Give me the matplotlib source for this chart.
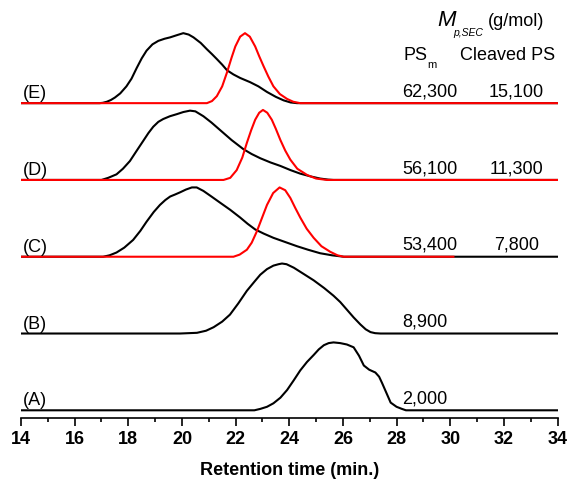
import numpy as np
import matplotlib.pyplot as plt

plt.rcParams['font.family'] = ['Liberation Sans', 'DejaVu Sans']

# SEC traces: retention time (min) and normalised intensity
a_t = [14.0, 22.70, 22.92, 23.17, 23.41, 23.67, 23.92, 24.17, 24.41, 24.66, 24.91, 25.10, 25.29, 25.47,
       25.65, 25.90, 26.15, 26.40, 26.60, 26.78, 26.98, 27.21, 27.35, 27.46, 27.62, 27.78, 28.0, 28.2, 28.35, 34.0]
a_i = [0.0, 0.0, 0.02, 0.05, 0.10, 0.18, 0.29, 0.43, 0.57, 0.69, 0.79, 0.87, 0.93, 0.96,
       0.97, 0.96, 0.94, 0.90, 0.78, 0.64, 0.58, 0.54, 0.48, 0.39, 0.25, 0.11, 0.05, 0.02, 0.0, 0.0]

b_t = [14.0, 19.93, 20.56, 20.90, 21.18, 21.50, 21.79, 22.10, 22.42, 22.70, 22.92, 23.17, 23.41, 23.60,
       23.73, 23.90, 24.17, 24.50, 24.91, 25.30, 25.65, 25.90, 26.15, 26.40, 26.65, 26.85, 27.03, 27.20, 27.40, 34.0]
b_i = [0.0, 0.0, 0.01, 0.04, 0.09, 0.17, 0.27, 0.43, 0.61, 0.74, 0.84, 0.92, 0.97, 0.99,
       1.0, 0.99, 0.94, 0.86, 0.76, 0.65, 0.54, 0.45, 0.34, 0.23, 0.13, 0.06, 0.02, 0.005, 0.0, 0.0]

c_t = [14.0, 17.06, 17.30, 17.56, 17.85, 18.18, 18.45, 18.68, 18.95, 19.18, 19.38, 19.56, 19.75, 19.93, 20.15,
       20.37, 20.55, 20.80, 21.10, 21.43, 21.80, 22.17, 22.45, 22.73, 23.05, 23.41, 23.85, 24.29, 24.70, 25.15,
       25.60, 26.03, 34.0]
c_i = [0.0, 0.0, 0.02, 0.06, 0.13, 0.24, 0.37, 0.50, 0.64, 0.74, 0.81, 0.86, 0.89, 0.92, 0.96,
       0.99, 0.99, 0.94, 0.86, 0.77, 0.67, 0.56, 0.47, 0.39, 0.33, 0.27, 0.21, 0.15, 0.10, 0.05,
       0.02, 0.0, 0.0]
c_red_t = [14.0, 21.92, 22.15, 22.42, 22.60, 22.79, 22.98, 23.17, 23.40, 23.64, 23.85, 24.04, 24.22, 24.41,
           24.65, 24.91, 25.20, 25.53, 25.80, 26.03, 30.12]
c_red_i = [0.0, 0.0, 0.03, 0.10, 0.20, 0.36, 0.55, 0.74, 0.91, 0.99, 0.95, 0.84, 0.70, 0.56,
           0.40, 0.27, 0.15, 0.07, 0.02, 0.0, 0.0]

d_t = [14.0, 17.00, 17.25, 17.56, 17.80, 18.06, 18.30, 18.56, 18.75, 18.93, 19.12, 19.30, 19.55, 19.81, 20.05,
       20.30, 20.50, 20.80, 21.10, 21.43, 21.85, 22.29, 22.60, 22.92, 23.30, 23.67, 24.05, 24.41, 24.80, 25.15,
       25.45, 25.65, 34.0]
d_i = [0.0, 0.0, 0.03, 0.08, 0.16, 0.27, 0.41, 0.56, 0.67, 0.76, 0.83, 0.87, 0.91, 0.94, 0.97,
       0.99, 0.98, 0.91, 0.82, 0.71, 0.57, 0.44, 0.37, 0.31, 0.25, 0.20, 0.14, 0.09, 0.05, 0.02,
       0.005, 0.0, 0.0]
d_red_t = [14.0, 21.55, 21.80, 22.04, 22.25, 22.42, 22.58, 22.73, 22.88, 23.02, 23.18, 23.35, 23.50, 23.67,
           23.85, 24.04, 24.30, 24.67, 25.00, 25.40, 34.0]
d_red_i = [0.0, 0.0, 0.03, 0.14, 0.32, 0.53, 0.71, 0.86, 0.96, 1.0, 0.96, 0.86, 0.73, 0.57,
           0.42, 0.29, 0.16, 0.07, 0.02, 0.0, 0.0]

e_t = [14.0, 16.93, 17.05, 17.20, 17.35, 17.50, 17.70, 17.93, 18.12, 18.31, 18.50, 18.68, 18.90, 19.12, 19.35,
       19.56, 19.80, 20.05, 20.25, 20.43, 20.70, 20.93, 21.12, 21.30, 21.50, 21.68, 21.92, 22.17, 22.54, 22.85,
       23.17, 23.50, 23.79, 24.05, 24.29, 34.0]
e_i = [0.0, 0.0, 0.005, 0.02, 0.045, 0.08, 0.14, 0.24, 0.35, 0.50, 0.64, 0.75, 0.84, 0.89, 0.92,
       0.94, 0.97, 1.0, 0.98, 0.94, 0.86, 0.77, 0.70, 0.63, 0.55, 0.47, 0.41, 0.36, 0.30, 0.24,
       0.16, 0.09, 0.04, 0.01, 0.0, 0.0]
e_red_t = [14.0, 20.93, 21.12, 21.30, 21.50, 21.68, 21.85, 21.99, 22.17, 22.35, 22.53, 22.73, 22.88, 23.04,
           23.22, 23.41, 23.65, 23.92, 24.15, 24.41, 34.0]
e_red_i = [0.0, 0.0, 0.03, 0.10, 0.24, 0.44, 0.65, 0.81, 0.95, 1.0, 0.95, 0.81, 0.67, 0.53,
           0.38, 0.24, 0.13, 0.06, 0.02, 0.0, 0.0]

sample_labels = ['(A)', '(B)', '(C)', '(D)', '(E)']
psm_values = ['2,000', '8,900', '53,400', '56,100', '62,300']
cleaved_values = ['', '', '7,800', '11,300', '15,100']

black = [(a_t, a_i), (b_t, b_i), (c_t, c_i), (d_t, d_i), (e_t, e_i)]
red = {2: (c_red_t, c_red_i), 3: (d_red_t, d_red_i), 4: (e_red_t, e_red_i)}

step = 1.097  # vertical offset between traces

fig = plt.figure(figsize=(5.69, 4.89), dpi=100)
ax = fig.add_axes([21 / 569, 70 / 489, 536.5 / 569, 419 / 489])

for k, (t, inten) in enumerate(black):
    off = k * step
    ax.plot(t, np.array(inten) + off, color='black', lw=1.5, solid_joinstyle='round')
    if k in red:
        rt, ri = red[k]
        ax.plot(rt, np.array(ri) + off, color='red', lw=1.5, solid_joinstyle='round')
    ax.text(14.06, off + 0.15, sample_labels[k], fontsize=13, ha='left', va='center')
    ax.text(28.22, off + 0.176, psm_values[k], fontsize=13, ha='left', va='center')
    if cleaved_values[k]:
        ax.text(32.47, off + 0.176, cleaved_values[k], fontsize=13, ha='center', va='center')

# column headers
ax.text(28.72, 5.08, 'PS', fontsize=13, ha='center', va='center')
ax.text(29.30, 4.95, 'm', fontsize=8, ha='center', va='center')
ax.text(32.13, 5.08, 'Cleaved PS', fontsize=13, ha='center', va='center')
ax.text(29.52, 5.58, 'M', fontsize=16, style='italic', ha='left', va='center')
ax.text(30.12, 5.40, 'p,SEC', fontsize=7.5, style='italic', ha='left', va='center')
ax.text(31.40, 5.57, '(g/mol)', fontsize=13, ha='left', va='center')

ax.set_xlim(14, 34)
ax.set_ylim(-0.11, 5.876)
ax.set_xticks(np.arange(14, 35, 2))
ax.set_xticks(np.arange(15, 34, 2), minor=True)
ax.tick_params(axis='x', which='major', direction='out', length=6, width=1.2, labelsize=13, pad=3)
ax.tick_params(axis='x', which='minor', direction='out', length=3, width=1.2)
for lab in ax.get_xticklabels():
    lab.set_fontweight('bold')
ax.set_yticks([])
for s in ['left', 'right', 'top']:
    ax.spines[s].set_visible(False)
ax.spines['bottom'].set_linewidth(1.2)
ax.set_xlabel('Retention time (min.)', fontsize=13, fontweight='bold', labelpad=10)

fig.savefig('out.png', dpi=100)
